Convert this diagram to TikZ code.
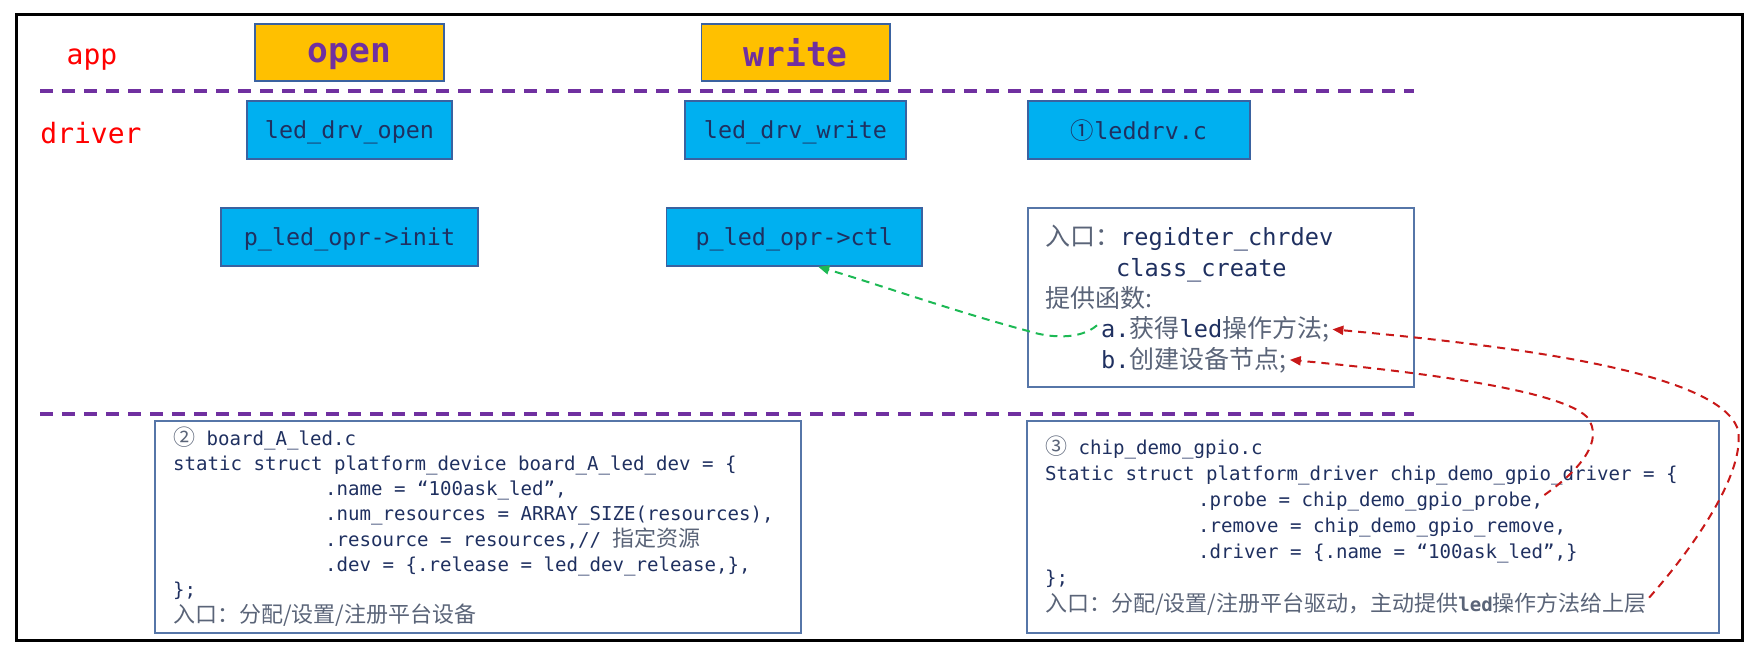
\documentclass[tikz,border=0pt]{standalone}
\usepackage{fontspec}
\setmonofont{DejaVu Sans Mono}
\newfontfamily\cjk{Noto Sans CJK SC}
\usetikzlibrary{arrows.meta,calc}
\definecolor{cyanfill}{HTML}{00B0F0}
\definecolor{orangefill}{HTML}{FFC000}
\definecolor{boxline}{HTML}{3A62A0}
\definecolor{frameblue}{HTML}{5676A8}
\definecolor{purpleink}{HTML}{7030A0}
\definecolor{codeink}{HTML}{1F3060}
\definecolor{grayink}{HTML}{5A6478}
\definecolor{greenlink}{HTML}{1DB954}
\definecolor{redlink}{HTML}{C81818}
\newcommand\zhS[1]{{\cjk\fontsize{22}{25}\selectfont #1}}
\newcommand\zhB[1]{{\cjk\fontsize{25}{28}\selectfont #1}}
\begin{document}
\begin{tikzpicture}[x=1pt,y=-1pt,
  bluebox/.style={draw=boxline, line width=1.5pt, fill=cyanfill, minimum height=58pt, inner sep=0pt,
    text depth=0pt, font=\ttfamily\fontsize{23.4}{28}\selectfont, text=codeink},
  appbox/.style={draw=boxline, line width=1.5pt, fill=orangefill, minimum width=189pt, minimum height=57pt,
    inner sep=0pt, text depth=0pt, font=\ttfamily\bfseries\fontsize{34.5}{40}\selectfont, text=purpleink},
  layer/.style={inner sep=0pt, text depth=0pt, font=\ttfamily\fontsize{28}{32}\selectfont, text=red},
  sepline/.style={draw=purpleink, line width=3.5pt, dash pattern=on 13pt off 9pt},
  codebox/.style={draw=frameblue, line width=2pt, inner sep=0pt},
  codeline/.style={anchor=base west, inner sep=0pt, font=\ttfamily\fontsize{19.1}{22}\selectfont, text=codeink},
  bigline/.style={anchor=base west, inner sep=0pt, font=\ttfamily\fontsize{23.6}{28}\selectfont, text=codeink},
  link/.style={line width=2pt, dash pattern=on 8pt off 6pt, -{Triangle[length=11pt,width=9pt]}}
]
\useasboundingbox (0,0) rectangle (1757,655);
% outer frame
\draw[line width=3pt] (16,15) rectangle (1742,640);
% layer separators
\draw[sepline] (40,91) -- (1414,91);
\draw[sepline] (40,414) -- (1414,414);
% layer labels
\node[layer] (app) at (92,57) {app};
\node[layer] (drv) at (91,133) {driver};
% app calls
\node[appbox] (open) at (349.5,52.5) {open};
\node[appbox, minimum width=188.5pt] (write) at (795.75,52.5) {write};
% driver boxes
\node[bluebox, minimum width=205pt] (ldo) at (349.5,130) {led\_drv\_open};
\node[bluebox, minimum width=221pt] (ldw) at (795.5,130) {led\_drv\_write};
\node[bluebox, minimum width=222pt] (ldc) at (1139,130) {{\cjk ①}leddrv.c};
\node[bluebox, minimum width=257pt] (init) at (349.5,237) {p\_led\_opr->init};
\node[bluebox, minimum width=255.5pt] (ctl) at (794.25,237) {p\_led\_opr->ctl};
% leddrv.c description box
\node[codebox, minimum width=386pt, minimum height=179pt] (big) at (1221,297.5) {};
\node[bigline] (B1) at (1045,246) {\textcolor{grayink}{\zhB{入口：}}regidter\_chrdev};
\node[bigline] (B2) at (1116,276.5) {class\_create};
\node[bigline] (B3) at (1045,307) {\textcolor{grayink}{\zhB{提供函数:}}};
\node[bigline] (B4) at (1101,337.5) {a.\textcolor{grayink}{\zhB{获得}}led\textcolor{grayink}{\zhB{操作方法;}}};
\node[bigline] (B5) at (1101,368) {b.\textcolor{grayink}{\zhB{创建设备节点;}}};
% board_A_led.c box
\node[codebox, minimum width=646pt, minimum height=212pt] (board) at (478,527) {};
\node[codeline] (L1) at (173,445) {\textcolor{grayink}{\zhS{②}} board\_A\_led.c};
\node[codeline] (L2) at (173,470.3) {static struct platform\_device board\_A\_led\_dev = \{};
\node[codeline] (L3) at (173,495.6) {\hspace*{152pt}.name = “100ask\_led”,};
\node[codeline] (L4) at (173,520.9) {\hspace*{152pt}.num\_resources = ARRAY\_SIZE(resources),};
\node[codeline] (L5) at (173,546.2) {\hspace*{152pt}.resource = resources,// \textcolor{grayink}{\zhS{指定资源}}};
\node[codeline] (L6) at (173,571.5) {\hspace*{152pt}.dev = \{.release = led\_dev\_release,\},};
\node[codeline] (L7) at (173,596.8) {\};};
\node[codeline, text=grayink] (L8) at (173,622.2) {\zhS{入口：分配/设置/注册平台设备}};
% chip_demo_gpio.c box
\node[codebox, minimum width=692pt, minimum height=212pt] (chip) at (1373,527) {};
\node[codeline] (R1) at (1045,454) {\textcolor{grayink}{\zhS{③}} chip\_demo\_gpio.c};
\node[codeline] (R2) at (1045,480) {Static struct platform\_driver chip\_demo\_gpio\_driver = \{};
\node[codeline] (R3) at (1045,506) {\hspace*{153pt}.probe = chip\_demo\_gpio\_probe,};
\node[codeline] (R4) at (1045,532) {\hspace*{153pt}.remove = chip\_demo\_gpio\_remove,};
\node[codeline] (R5) at (1045,558) {\hspace*{153pt}.driver = \{.name = “100ask\_led”,\}};
\node[codeline] (R6) at (1045,584) {\};};
\node[codeline, text=grayink] (R7) at (1045,611) {\zhS{入口：分配/设置/注册平台驱动，主动提供}{\ttfamily\bfseries led}\zhS{操作方法给上层}};
% connectors
\draw[link, draw=greenlink, -{Triangle[length=11pt,width=9pt,fill=greenlink]}]
  ([xshift=-4pt,yshift=4pt]B4.west) .. controls (1080,340) and (1050,338) .. (1028,331)
  .. controls (950,310) and (880,285) .. ([xshift=24pt]ctl.south);
\draw[link, draw=redlink]
  ([xshift=2pt,yshift=6pt]R7.east) .. controls (1700,540) and (1745,470) .. (1738,430)
  .. controls (1720,370) and (1500,345) .. ([xshift=3pt]B4.east);
\draw[link, draw=redlink]
  ([xshift=1pt,yshift=6pt]R3.east) .. controls (1580,470) and (1605,440) .. (1587,417)
  .. controls (1560,390) and (1420,372) .. ([xshift=3pt]B5.east);
\end{tikzpicture}
\end{document}
